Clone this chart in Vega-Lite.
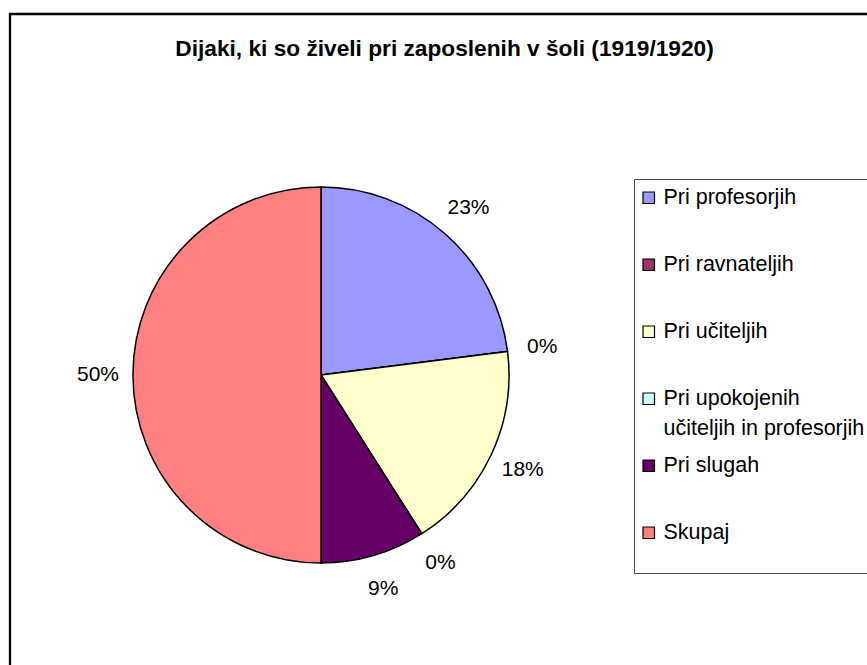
{
  "$schema": "https://vega.github.io/schema/vega-lite/v6.json",
  "width": 900,
  "height": 700,
  "autosize": {"type": "none"},
  "padding": {"left": 10, "top": 14, "right": 0, "bottom": 0},
  "background": "white",
  "config": {
    "view": {"stroke": null},
    "font": "Liberation Sans",
    "style": {"guide-label": {"lineHeight": 30}}
  },
  "title": {
    "text": "Dijaki, ki so živeli  pri zaposlenih v šoli (1919/1920)",
    "font": "Liberation Sans",
    "fontSize": 22.7,
    "fontWeight": "bold",
    "color": "#000000",
    "anchor": "middle",
    "offset": 0,
    "baseline": "alphabetic",
    "dx": -15.5,
    "dy": 66
  },
  "data": {
    "values": [
      {"n": 1, "kategorija": "Pri profesorjih", "delez": 0.23},
      {"n": 2, "kategorija": "Pri ravnateljih", "delez": 0.0},
      {"n": 3, "kategorija": "Pri učiteljih", "delez": 0.18},
      {"n": 4, "kategorija": "Pri upokojenih učiteljih in profesorjih", "delez": 0.0},
      {"n": 5, "kategorija": "Pri slugah", "delez": 0.09},
      {"n": 6, "kategorija": "Skupaj", "delez": 0.50}
    ]
  },
  "layer": [
    {
      "data": {"values": [{"okvir": 1}]},
      "mark": {"type": "rect", "fill": null, "stroke": "#000000", "strokeWidth": 2.3},
      "encoding": {}
    },
    {
      "mark": {"type": "arc", "radius": 188, "stroke": "#000000", "strokeWidth": 1.5, "xOffset": -139, "yOffset": 11},
      "encoding": {
        "theta": {"field": "delez", "type": "quantitative", "stack": true},
        "order": {"field": "n", "type": "quantitative"},
        "color": {
          "field": "kategorija",
          "type": "nominal",
          "scale": {
            "domain": ["Pri profesorjih", "Pri ravnateljih", "Pri učiteljih", "Pri upokojenih učiteljih in profesorjih", "Pri slugah", "Skupaj"],
            "range": ["#9999FF", "#993366", "#FFFFCC", "#CCFFFF", "#660066", "#FF8080"]
          },
          "legend": {
            "title": " ",
            "titleOrient": "bottom",
            "titleFontSize": 14,
            "titlePadding": 8,
            "orient": "none",
            "legendX": 624,
            "legendY": 165,
            "padding": 8,
            "strokeColor": "#444444",
            "fillColor": "#ffffff",
            "symbolType": "square",
            "symbolSize": 132,
            "symbolStrokeColor": "#000000",
            "symbolStrokeWidth": 1.2,
            "symbolOpacity": 1,
            "symbolOffset": -4,
            "labelFont": "Liberation Sans",
            "labelFontSize": 21.5,
            "labelColor": "#000000",
            "labelLimit": 400,
            "labelOffset": 4,
            "gridAlign": "all",
            "rowPadding": 14,
            "labelExpr": "datum.label == 'Pri upokojenih učiteljih in profesorjih' ? ['Pri upokojenih', 'učiteljih in profesorjih'] : datum.label"
          }
        }
      }
    },
    {
      "mark": {"type": "text", "radius": 223, "fontSize": 21, "font": "Liberation Sans", "color": "#000000", "xOffset": -139, "yOffset": 11},
      "encoding": {
        "theta": {"field": "delez", "type": "quantitative", "stack": true},
        "order": {"field": "n", "type": "quantitative"},
        "text": {"field": "delez", "type": "quantitative", "format": ".0%"}
      }
    }
  ]
}
